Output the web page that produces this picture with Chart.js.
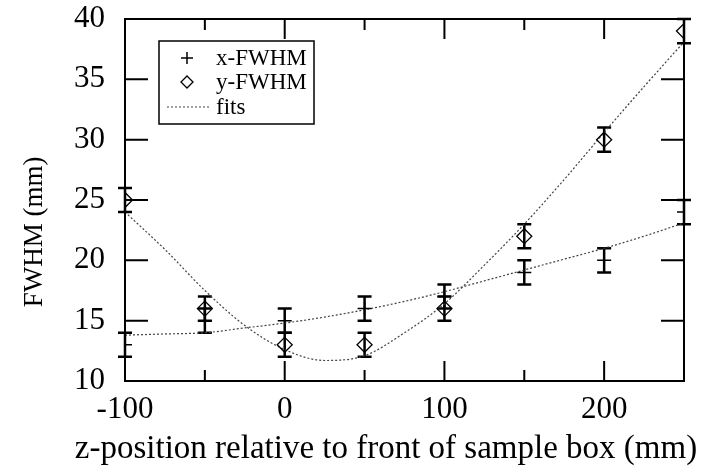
<!DOCTYPE html>
<html lang="en">
<head>
<meta charset="UTF-8">
<title>FWHM vs z-position</title>
<script src="https://cdn.jsdelivr.net/npm/chart.js"></script>
<style>
  body { margin: 0; background: #fff; }
  canvas { display: block; }
</style>
</head>
<body>
<canvas id="fwhmChart" width="705" height="476"></canvas>
<script>
// measured points
const zPos = [-100, -50, 0, 50, 100, 150, 200, 250];
const xFwhm = [13, 15, 15, 16, 17, 19, 20, 24];
const xErr = [1, 1, 1, 1, 1, 1, 1, 1];
const yFwhm = [25, 16, 13, 13, 16, 22, 30, 39];
const yErr = [1, 1, 1, 1, 1, 1, 1, 1];

// fit curves
const fitZ = [-100, -75, -50, -25, 0, 25, 50, 75, 100, 125, 150, 175, 200, 225, 250];
const xFit = [13.8, 13.9, 14.0, 14.4, 14.8, 15.3, 15.9, 16.6, 17.4, 18.3, 19.2, 20.1, 21.0, 22.0, 23.1];
const yFit = [24.0, 20.9, 17.5, 14.6, 12.6, 11.7, 12.1, 14.0, 16.4, 19.6, 23.0, 26.7, 30.6, 34.4, 38.1];

const xTicks = [-100, 0, 100, 200];
const xMinorTicks = [-50, 50, 150];
const yTicks = [10, 15, 20, 25, 30, 35, 40];

const seriesNames = ['x-FWHM', 'y-FWHM', 'fits'];
const xTitle = 'z-position relative to front of sample box (mm)';
const yTitle = 'FWHM (mm)';

const serif = "'Liberation Serif', 'Times New Roman', serif";

const toPts = (xs, ys) => xs.map((x, i) => ({ x: x, y: ys[i] }));

// error bars, frame, inward ticks, legend and axis titles
const gnuplotLook = {
    id: 'gnuplotLook',
    beforeDatasetsDraw(chart) {
        const ctx = chart.ctx;
        const xs = chart.scales.x, ys = chart.scales.y;
        ctx.save();
        ctx.strokeStyle = '#000';
        ctx.lineWidth = 2.5;
        const bars = [[xFwhm, xErr], [yFwhm, yErr]];
        bars.forEach(([vals, errs]) => {
            vals.forEach((v, i) => {
                const px = xs.getPixelForValue(zPos[i]);
                const top = ys.getPixelForValue(Math.min(v + errs[i], ys.max));
                const bot = ys.getPixelForValue(v - errs[i]);
                ctx.beginPath();
                ctx.moveTo(px, top); ctx.lineTo(px, bot);
                if (v + errs[i] <= ys.max) { ctx.moveTo(px - 7, top); ctx.lineTo(px + 7, top); }
                ctx.moveTo(px - 7, bot); ctx.lineTo(px + 7, bot);
                ctx.stroke();
            });
        });
        ctx.restore();
    },
    afterDraw(chart) {
        const ctx = chart.ctx;
        const a = chart.chartArea;
        const xs = chart.scales.x, ys = chart.scales.y;
        ctx.save();
        ctx.strokeStyle = '#000';
        ctx.lineWidth = 2;
        ctx.strokeRect(a.left, a.top, a.right - a.left, a.bottom - a.top);

        ctx.beginPath();
        yTicks.forEach(v => {
            const py = ys.getPixelForValue(v);
            ctx.moveTo(a.left, py); ctx.lineTo(a.left + 23, py);
            ctx.moveTo(a.right, py); ctx.lineTo(a.right - 23, py);
        });
        xTicks.forEach(v => {
            const px = xs.getPixelForValue(v);
            ctx.moveTo(px, a.bottom); ctx.lineTo(px, a.bottom - 20);
            ctx.moveTo(px, a.top); ctx.lineTo(px, a.top + 20);
        });
        xMinorTicks.forEach(v => {
            const px = xs.getPixelForValue(v);
            ctx.moveTo(px, a.bottom); ctx.lineTo(px, a.bottom - 11);
            ctx.moveTo(px, a.top); ctx.lineTo(px, a.top + 11);
        });
        ctx.stroke();

        // legend box
        ctx.lineWidth = 1.5;
        ctx.strokeRect(159, 41, 155, 83);
        ctx.font = '23px ' + serif;
        ctx.fillStyle = '#000';
        ctx.textBaseline = 'middle';
        ctx.textAlign = 'left';
        const rows = [58, 82, 107];
        rows.forEach((ry, i) => ctx.fillText(seriesNames[i], 216, ry + 1));
        ctx.lineWidth = 1.5;
        ctx.beginPath();
        ctx.moveTo(181, rows[0]); ctx.lineTo(193, rows[0]);
        ctx.moveTo(187, rows[0] - 6); ctx.lineTo(187, rows[0] + 6);
        ctx.stroke();
        ctx.lineWidth = 1.3;
        ctx.beginPath();
        ctx.moveTo(187, rows[1] - 6); ctx.lineTo(193, rows[1]);
        ctx.lineTo(187, rows[1] + 6); ctx.lineTo(181, rows[1]);
        ctx.closePath();
        ctx.stroke();
        ctx.strokeStyle = '#444';
        ctx.lineWidth = 1.2;
        ctx.setLineDash([2, 2]);
        ctx.beginPath();
        ctx.moveTo(167, rows[2]); ctx.lineTo(209, rows[2]);
        ctx.stroke();
        ctx.setLineDash([]);

        // axis titles
        ctx.font = '33px ' + serif;
        ctx.textAlign = 'center';
        ctx.fillText(xTitle, 386, 449);
        ctx.font = '27px ' + serif;
        ctx.translate(35, 232);
        ctx.rotate(-Math.PI / 2);
        ctx.fillText(yTitle, 0, 0);
        ctx.restore();
    }
};

const ctx = document.getElementById('fwhmChart').getContext('2d');
new Chart(ctx, {
    type: 'scatter',
    data: {
        datasets: [
            {
                label: seriesNames[0],
                data: toPts(zPos, xFwhm),
                pointStyle: 'cross',
                pointRadius: 7,
                pointHoverRadius: 7,
                borderColor: '#000',
                backgroundColor: '#000',
                borderWidth: 1.5
            },
            {
                label: seriesNames[1],
                data: toPts(zPos, yFwhm),
                pointStyle: 'rectRot',
                pointRadius: 7.5,
                pointHoverRadius: 7.5,
                borderColor: '#000',
                backgroundColor: 'rgba(0,0,0,0)',
                borderWidth: 1.3
            },
            {
                label: 'x fit',
                data: toPts(fitZ, xFit),
                showLine: true,
                pointRadius: 0,
                borderColor: '#444',
                borderWidth: 1.2,
                borderDash: [2, 2],
                cubicInterpolationMode: 'monotone'
            },
            {
                label: 'y fit',
                data: toPts(fitZ, yFit),
                showLine: true,
                pointRadius: 0,
                borderColor: '#444',
                borderWidth: 1.2,
                borderDash: [2, 2],
                cubicInterpolationMode: 'monotone'
            }
        ]
    },
    options: {
        responsive: false,
        animation: false,
        devicePixelRatio: 1,
        layout: { padding: { left: 0, right: 21, top: 19, bottom: 0 } },
        plugins: { legend: { display: false }, tooltip: { enabled: false } },
        scales: {
            x: {
                type: 'linear',
                min: -100,
                max: 250,
                afterBuildTicks: s => { s.ticks = xTicks.map(v => ({ value: v })); },
                afterFit: s => { s.height = 95; },
                grid: { display: false },
                border: { display: false },
                ticks: { color: '#000', padding: 5, maxRotation: 0, font: { family: serif, size: 31, lineHeight: 1 } }
            },
            y: {
                type: 'linear',
                min: 10,
                max: 40,
                afterBuildTicks: s => { s.ticks = yTicks.map(v => ({ value: v })); },
                afterFit: s => { s.width = 125; s.paddingTop = 0; s.paddingBottom = 0; },
                grid: { display: false },
                border: { display: false },
                ticks: { color: '#000', padding: 12, font: { family: serif, size: 31, lineHeight: 1 } }
            }
        }
    },
    plugins: [gnuplotLook]
});
</script>
</body>
</html>
